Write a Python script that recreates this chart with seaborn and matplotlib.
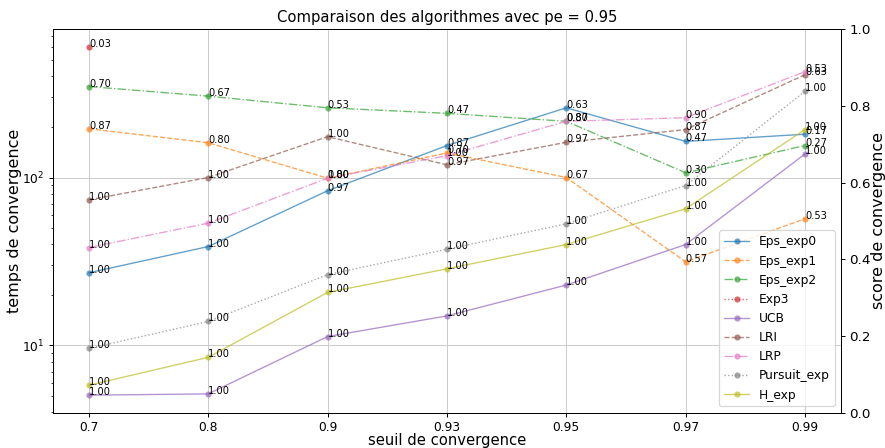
import numpy as np
import pandas as pd
import matplotlib
matplotlib.use("Agg")
import matplotlib.pyplot as plt
import seaborn as sns

seuils = ["0.7", "0.8", "0.9", "0.93", "0.95", "0.97", "0.99"]
algos = ["Eps_exp0", "Eps_exp1", "Eps_exp2", "Exp3", "UCB", "LRI", "LRP", "Pursuit_exp", "H_exp"]

eps_exp0_temps = [27.1, 38.8, 83.4, 155, 260, 164, 181]
eps_exp1_temps = [195, 161, 99, 140, 100, 31.5, 56.8]
eps_exp2_temps = [348, 305, 260, 241, 216, 106.7, 155]
exp3_temps = [602, np.nan, np.nan, np.nan, np.nan, np.nan, np.nan]
ucb_temps = [5.06, 5.15, 11.3, 15.0, 22.9, 39.9, 138]
lri_temps = [73.6, 100, 175, 119, 162, 193, 409]
lrp_temps = [38.3, 53.5, 99, 135, 216, 227, 427]
pursuit_temps = [9.6, 13.9, 26.4, 37.4, 53, 89.6, 326]
h_exp_temps = [5.8, 8.5, 20.7, 28.6, 39.9, 65.1, 193]

eps_exp0_score = [1.00, 1.00, 0.97, 0.87, 0.63, 0.47, 0.17]
eps_exp1_score = [0.87, 0.80, 0.80, 0.70, 0.67, 0.57, 0.53]
eps_exp2_score = [0.70, 0.67, 0.53, 0.47, 0.87, 0.30, 0.27]
exp3_score = [0.03, np.nan, np.nan, np.nan, np.nan, np.nan, np.nan]
ucb_score = [1.00, 1.00, 1.00, 1.00, 1.00, 1.00, 1.00]
lri_score = [1.00, 1.00, 1.00, 0.97, 0.97, 0.87, 0.63]
lrp_score = [1.00, 1.00, 1.00, 1.00, 0.80, 0.90, 0.53]
pursuit_score = [1.00, 1.00, 1.00, 1.00, 1.00, 1.00, 1.00]
h_exp_score = [1.00, 1.00, 1.00, 1.00, 1.00, 1.00, 1.00]

temps = [eps_exp0_temps, eps_exp1_temps, eps_exp2_temps, exp3_temps, ucb_temps,
         lri_temps, lrp_temps, pursuit_temps, h_exp_temps]
scores = [eps_exp0_score, eps_exp1_score, eps_exp2_score, exp3_score, ucb_score,
          lri_score, lrp_score, pursuit_score, h_exp_score]
styles = ["-", "--", "-.", ":", "-", "--", "-.", ":", "-"]

plt.rcParams["font.family"] = ["DejaVu Sans"]

DPI = 88.5
fig = plt.figure(figsize=(885 / DPI, 448 / DPI), dpi=DPI)
ax = fig.add_axes([0.060, 0.079, 0.890, 0.856])
colors = plt.get_cmap("tab10").colors

pos = np.arange(len(seuils))
for i, name in enumerate(algos):
    df = pd.DataFrame({"x": pos, "y": temps[i]}).dropna()
    sns.lineplot(data=df, x="x", y="y", ax=ax, marker="o", markersize=5,
                 markeredgewidth=0, linestyle=styles[i], linewidth=1.1,
                 color=colors[i], alpha=0.7, label=name)
    for xx, yy, ss in zip(pos, temps[i], scores[i]):
        if not np.isnan(yy):
            ax.text(xx, yy, f"{ss:.2f}", fontsize=8)

ax.set_yscale("log")
ax.set_xticks(pos)
ax.set_xticklabels(seuils)
ax.tick_params(labelsize=10)
ax.set_xlabel("seuil de convergence", fontsize=12, labelpad=-1)
ax.set_ylabel("temps de convergence", fontsize=13, labelpad=0)
ax.set_title("Comparaison des algorithmes avec pe = 0.95", fontsize=12)
ax.grid(True, which="major", color="#cccccc")
ax.legend(loc="lower right", fontsize=10)

ax2 = ax.twinx()
ax2.set_ylim(0, 1)
ax2.set_ylabel("score de convergence", fontsize=13, labelpad=0)
ax2.tick_params(labelsize=11)

fig.savefig("out.png", dpi=DPI)
